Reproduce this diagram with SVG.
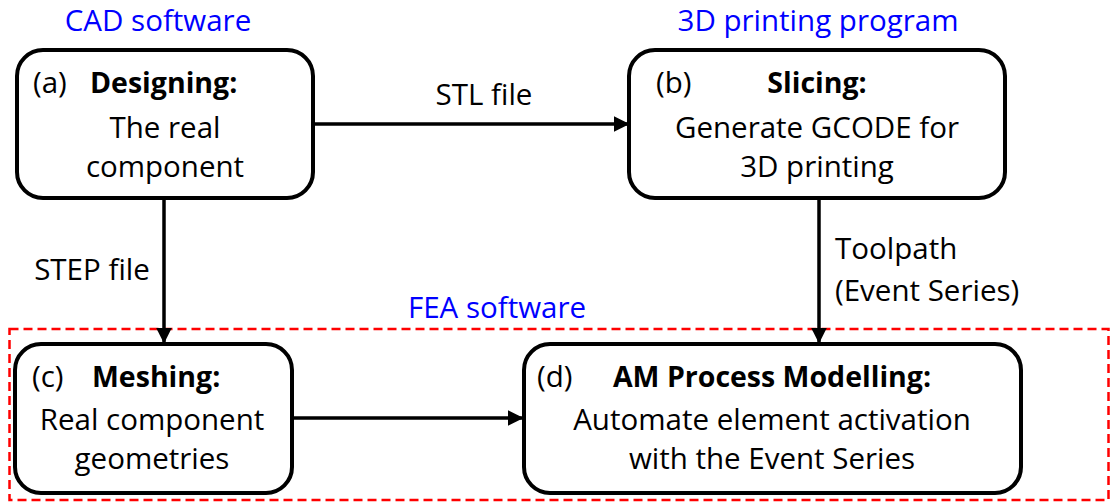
<svg xmlns="http://www.w3.org/2000/svg" width="1113" height="502" viewBox="0 0 1113 502">
  <style>
    .box { fill: #ffffff; stroke: #000000; stroke-width: 4; }
    .t { font-family: "Open Sans", "Liberation Sans", sans-serif; font-size: 29.5px; fill: #000000; }
    .c { text-anchor: middle; }
    .b { font-weight: bold; font-size: 28.5px; }
    .blue { font-family: "Open Sans", "Liberation Sans", sans-serif; font-size: 29.5px; fill: #0000ff; text-anchor: middle; }
    .edge { stroke: #000000; stroke-width: 3.5; fill: none; marker-end: url(#arrow); }
  </style>
  <defs>
    <marker id="arrow" viewBox="0 0 10 10" refX="9" refY="5" markerWidth="4.5" markerHeight="4.5" orient="auto" markerUnits="strokeWidth">
      <path d="M0,0 L10,5 L0,10 z" fill="#000000"/>
    </marker>
  </defs>
  <rect width="1113" height="502" fill="#ffffff"/>

  <!-- software region labels -->
  <text class="blue" x="158" y="31">CAD software</text>
  <text class="blue" x="818" y="31">3D printing program</text>
  <text class="blue" x="497" y="318">FEA software</text>

  <!-- FEA region -->
  <rect x="9.5" y="329" width="1099" height="171" fill="none" stroke="#ff0000" stroke-width="2.5" stroke-dasharray="9,5"/>

  <!-- connectors -->
  <g id="connectors">
    <line class="edge" x1="313" y1="124" x2="628" y2="124"/>
    <text class="t" x="484" y="105" text-anchor="middle">STL file</text>
    <line class="edge" x1="164" y1="198" x2="164" y2="342"/>
    <text class="t" x="92" y="280" text-anchor="middle">STEP file</text>
    <line class="edge" x1="819" y1="198" x2="819" y2="342"/>
    <text class="t" x="835" y="259">Toolpath</text>
    <text class="t" x="835" y="301">(Event Series)</text>
    <line class="edge" x1="292" y1="418" x2="522" y2="418"/>
  </g>

  <g id="node-a">
    <rect class="box" x="17" y="50" width="296" height="148" rx="26"/>
    <text class="t" x="33" y="93">(a)</text>
    <text class="t b" x="90" y="93">Designing:</text>
    <text class="t c" x="165" y="138">The real</text>
    <text class="t c" x="165" y="177">component</text>
  </g>

  <g id="node-b">
    <rect class="box" x="629" y="50" width="376" height="148" rx="26"/>
    <text class="t" x="656" y="93">(b)</text>
    <text class="t b c" x="817" y="93">Slicing:</text>
    <text class="t c" x="817" y="138">Generate GCODE for</text>
    <text class="t c" x="817" y="177">3D printing</text>
  </g>

  <g id="node-c">
    <rect class="box" x="15" y="344" width="277" height="149" rx="26"/>
    <text class="t" x="32" y="387">(c)</text>
    <text class="t b" x="92" y="387">Meshing:</text>
    <text class="t c" x="152" y="430">Real component</text>
    <text class="t c" x="152" y="469">geometries</text>
  </g>

  <g id="node-d">
    <rect class="box" x="524" y="344" width="497" height="149" rx="26"/>
    <text class="t" x="537" y="387">(d)</text>
    <text class="t b c" x="772" y="387">AM Process Modelling:</text>
    <text class="t c" x="772" y="430">Automate element activation</text>
    <text class="t c" x="772" y="469">with the Event Series</text>
  </g>
</svg>
